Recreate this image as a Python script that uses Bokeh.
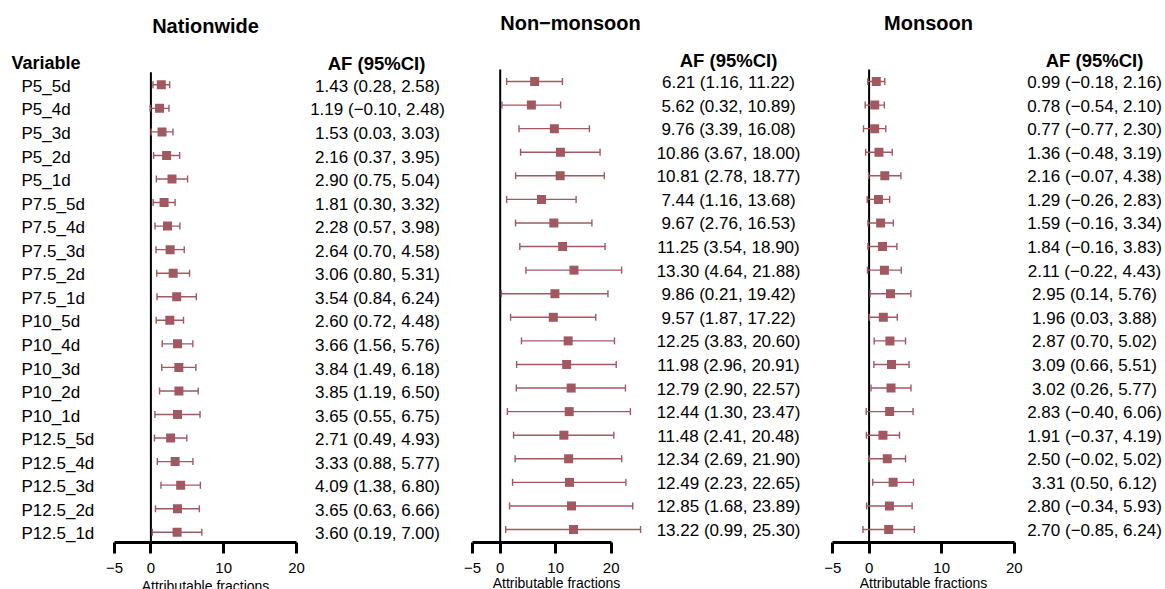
import math
from bokeh.plotting import figure
from bokeh.models import Range1d, LinearAxis, FixedTicker, ColumnDataSource
from bokeh.layouts import row
from bokeh.embed import file_html
from bokeh.resources import INLINE
from bokeh.core.properties import value

# ---------------- data ----------------
variables = ["P5_5d", "P5_4d", "P5_3d", "P5_2d", "P5_1d",
             "P7.5_5d", "P7.5_4d", "P7.5_3d", "P7.5_2d", "P7.5_1d",
             "P10_5d", "P10_4d", "P10_3d", "P10_2d", "P10_1d",
             "P12.5_5d", "P12.5_4d", "P12.5_3d", "P12.5_2d", "P12.5_1d"]

nation_af = [1.43, 1.19, 1.53, 2.16, 2.90, 1.81, 2.28, 2.64, 3.06, 3.54,
             2.60, 3.66, 3.84, 3.85, 3.65, 2.71, 3.33, 4.09, 3.65, 3.60]
nation_lo = [0.28, -0.10, 0.03, 0.37, 0.75, 0.30, 0.57, 0.70, 0.80, 0.84,
             0.72, 1.56, 1.49, 1.19, 0.55, 0.49, 0.88, 1.38, 0.63, 0.19]
nation_hi = [2.58, 2.48, 3.03, 3.95, 5.04, 3.32, 3.98, 4.58, 5.31, 6.24,
             4.48, 5.76, 6.18, 6.50, 6.75, 4.93, 5.77, 6.80, 6.66, 7.00]

non_af = [6.21, 5.62, 9.76, 10.86, 10.81, 7.44, 9.67, 11.25, 13.30, 9.86,
          9.57, 12.25, 11.98, 12.79, 12.44, 11.48, 12.34, 12.49, 12.85, 13.22]
non_lo = [1.16, 0.32, 3.39, 3.67, 2.78, 1.16, 2.76, 3.54, 4.64, 0.21,
          1.87, 3.83, 2.96, 2.90, 1.30, 2.41, 2.69, 2.23, 1.68, 0.99]
non_hi = [11.22, 10.89, 16.08, 18.00, 18.77, 13.68, 16.53, 18.90, 21.88, 19.42,
          17.22, 20.60, 20.91, 22.57, 23.47, 20.48, 21.90, 22.65, 23.89, 25.30]

mon_af = [0.99, 0.78, 0.77, 1.36, 2.16, 1.29, 1.59, 1.84, 2.11, 2.95,
          1.96, 2.87, 3.09, 3.02, 2.83, 1.91, 2.50, 3.31, 2.80, 2.70]
mon_lo = [-0.18, -0.54, -0.77, -0.48, -0.07, -0.26, -0.16, -0.16, -0.22, 0.14,
          0.03, 0.70, 0.66, 0.26, -0.40, -0.37, -0.02, 0.50, -0.34, -0.85]
mon_hi = [2.16, 2.10, 2.30, 3.19, 4.38, 2.83, 3.34, 3.83, 4.43, 5.76,
          3.88, 5.02, 5.51, 5.77, 6.06, 4.19, 5.02, 6.12, 5.93, 6.24]

panel_titles = ["Nationwide", "Non\u2212monsoon", "Monsoon"]
x_ticks = [-5, 0, 10, 20]
x_label = "Attributable fractions"
header_var = "Variable"
header_af = "AF (95%CI)"

# ---------------- style / layout ----------------
FONT = "Liberation Sans"
MINUS = "\u2212"
BOX = "#A25860"
H = 589
PAGE_AXIS = 542          # y of the x-axis line


def fmt(v):
    return f"{v:.2f}".replace("-", MINUS)


def ci_text(a, l, h):
    return f"{fmt(a)} ({fmt(l)}, {fmt(h)})"


panels = [
    dict(title=panel_titles[0], af=nation_af, lo=nation_lo, hi=nation_hi,
         left=0, right=458, x0=150.4, sx=7.28, y0=84.3, dy=23.55, tdy=1.6,
         title_xy=(205, 25), header_xy=(376, 62.5), af_x=377, line_top=71.7,
         xlabel_xy=(205, 585.5), show_var=True),
    dict(title=panel_titles[1], af=non_af, lo=non_lo, hi=non_hi,
         left=458, right=805, x0=499.7, sx=5.548, y0=81.0, dy=23.58, tdy=1.0,
         title_xy=(570, 22.5), header_xy=(728, 60), af_x=728, line_top=69,
         xlabel_xy=(556, 582.5), show_var=False),
    dict(title=panel_titles[2], af=mon_af, lo=mon_lo, hi=mon_hi,
         left=805, right=1165, x0=868.6, sx=7.256, y0=81.0, dy=23.58, tdy=1.0,
         title_xy=(928, 22.5), header_xy=(1094, 60), af_x=1094, line_top=69,
         xlabel_xy=(923, 582.5), show_var=False),
]


def make_panel(c):
    w = c["right"] - c["left"]

    def dx(px):
        return (px - c["x0"]) / c["sx"]

    def dy(py):
        return (py - c["y0"]) / c["dy"]

    p = figure(width=w, height=H,
               x_range=Range1d(dx(c["left"]), dx(c["right"])),
               y_range=Range1d(dy(H), dy(0)),
               output_backend="svg", toolbar_location=None,
               min_border=0,
               x_axis_location=None, y_axis_location=None)
    p.outline_line_color = None
    p.grid.visible = False
    p.background_fill_color = "white"
    p.border_fill_color = "white"

    n = len(c["af"])
    rows = list(range(n))
    toff = c["tdy"] / c["dy"]
    src = ColumnDataSource(dict(
        r=rows, rt=[r + toff for r in rows],
        af=c["af"], lo=c["lo"], hi=c["hi"],
        label=[ci_text(a, l, h) for a, l, h in zip(c["af"], c["lo"], c["hi"])],
        var=variables,
    ))

    # zero reference line
    p.segment(x0=[0], x1=[0], y0=[dy(c["line_top"])], y1=[dy(PAGE_AXIS)],
              line_color="black", line_width=2)

    # confidence intervals
    p.segment(x0="lo", x1="hi", y0="r", y1="r", source=src,
              line_color=BOX, line_width=1.4)
    p.scatter(x="lo", y="r", source=src, marker="dash", angle=math.pi / 2,
              size=7, line_color=BOX, line_width=1.4)
    p.scatter(x="hi", y="r", source=src, marker="dash", angle=math.pi / 2,
              size=7, line_color=BOX, line_width=1.4)
    # point estimates
    p.scatter(x="af", y="r", source=src, marker="square", size=9,
              fill_color=BOX, line_color=None)

    # AF text column
    p.text(x=dx(c["af_x"]), y="rt", text="label", source=src,
           text_align="center", text_baseline="middle",
           text_font=value(FONT), text_font_size="17px", text_color="black")
    p.text(x=[dx(c["header_xy"][0])], y=[dy(c["header_xy"][1])], text=[header_af],
           text_align="center", text_baseline="middle", text_font=value(FONT),
           text_font_size="18.5px", text_font_style="bold", text_color="black")

    if c["show_var"]:
        p.text(x=dx(21), y="rt", text="var", source=src,
               text_align="left", text_baseline="middle",
               text_font=value(FONT), text_font_size="17px", text_color="black")
        p.text(x=[dx(11)], y=[dy(62)], text=[header_var],
               text_align="left", text_baseline="middle", text_font=value(FONT),
               text_font_size="18px", text_font_style="bold", text_color="black")

    # panel title
    p.text(x=[dx(c["title_xy"][0])], y=[dy(c["title_xy"][1])], text=[c["title"]],
           text_align="center", text_baseline="middle", text_font=value(FONT),
           text_font_size="20px", text_font_style="bold", text_color="black")

    # x-axis title (partly cut by the bottom edge, as in the reference)
    p.text(x=[dx(c["xlabel_xy"][0])], y=[dy(c["xlabel_xy"][1])], text=[x_label],
           text_align="center", text_baseline="middle", text_font=value(FONT),
           text_font_size="14px", text_color="black")

    ax = LinearAxis(bounds=(x_ticks[0], x_ticks[-1]),
                    fixed_location=dy(PAGE_AXIS),
                    ticker=FixedTicker(ticks=x_ticks, minor_ticks=[]),
                    axis_line_width=3, axis_line_color="black",
                    major_tick_line_width=3, major_tick_line_color="black",
                    major_tick_in=0, major_tick_out=11,
                    minor_tick_line_color=None,
                    major_label_text_font=FONT, major_label_text_font_size="15px",
                    major_label_text_color="black", major_label_standoff=9,
                    major_label_overrides={float(t): fmt(t).replace(".00", "") for t in x_ticks if t < 0})
    p.add_layout(ax, "below")
    return p


layout = row(*[make_panel(c) for c in panels])
open("out.html", "w").write(file_html(layout, INLINE))
